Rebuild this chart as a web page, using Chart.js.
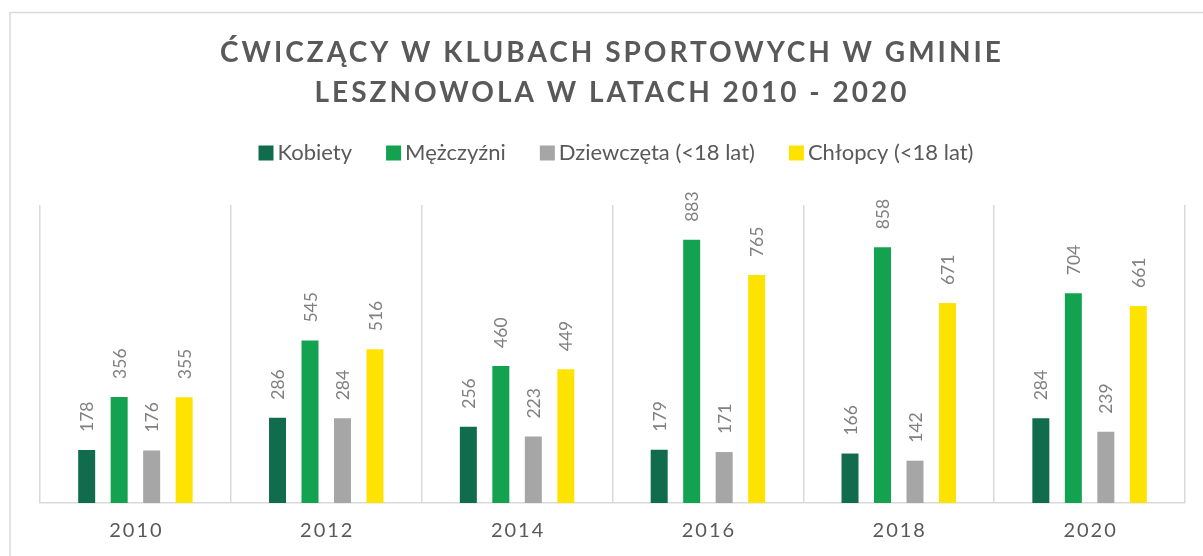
<!DOCTYPE html>
<html>
<head>
<meta charset="utf-8">
<script src="https://cdn.jsdelivr.net/npm/chart.js@4.4.0/dist/chart.umd.min.js"></script>
<style>
  html, body { margin: 0; padding: 0; background: #ffffff; }
  #wrap { width: 1203px; height: 556px; position: relative; }
</style>
</head>
<body>
<div id="wrap"><canvas id="c" width="1203" height="556"></canvas></div>
<script>
// ---- Data ----
const years = ['2010', '2012', '2014', '2016', '2018', '2020'];
const seriesNames = ['Kobiety', 'Mężczyźni', 'Dziewczęta (<18 lat)', 'Chłopcy (<18 lat)'];
const kobiety    = [178, 286, 256, 179, 166, 284];
const mezczyzni  = [356, 545, 460, 883, 858, 704];
const dziewczeta = [176, 284, 223, 171, 142, 239];
const chlopcy    = [355, 516, 449, 765, 671, 661];
const titleLines = ['ĆWICZĄCY W KLUBACH SPORTOWYCH W GMINIE', 'LESZNOWOLA W LATACH 2010 - 2020'];

// ---- Styles ----
const colors = ['#116C4E', '#13A350', '#A6A6A6', '#FFE300'];
const textGrey = '#595959';
const labelGrey = '#808080';
const gridGrey = '#D9D9D9';

const chromePlugin = {
  id: 'chrome',
  beforeDraw(chart) {
    const ctx = chart.ctx;
    ctx.save();
    ctx.strokeStyle = gridGrey;
    ctx.lineWidth = 1.5;
    ctx.beginPath();
    ctx.moveTo(10, 560);
    ctx.lineTo(10, 12.5);
    ctx.lineTo(1210, 12.5);
    ctx.stroke();
    ctx.restore();
  },
  afterDraw(chart) {
    const ctx = chart.ctx;
    ctx.save();
    // Title
    ctx.fillStyle = textGrey;
    ctx.font = 'bold 28px Lato';
    ctx.letterSpacing = '3px';
    ctx.textAlign = 'center';
    ctx.textBaseline = 'middle';
    const tcx = 612;
    ctx.fillText(titleLines[0], tcx, 53);
    ctx.fillText(titleLines[1], tcx, 93);

    // Legend
    ctx.letterSpacing = '0px';
    ctx.font = '22px Lato';
    ctx.textAlign = 'left';
    const box = 15, boxGap = 4, itemGap = 34;
    const widths = chart.data.datasets.map(d => ctx.measureText(d.label).width);
    let total = 0;
    widths.forEach((w, i) => { total += box + boxGap + w + (i < widths.length - 1 ? itemGap : 0); });
    let x = 616 - total / 2;
    const ly = 153;
    chart.data.datasets.forEach((d, i) => {
      ctx.fillStyle = d.backgroundColor;
      ctx.fillRect(x, ly - box / 2, box, box);
      ctx.fillStyle = textGrey;
      ctx.fillText(d.label, x + box + boxGap, ly);
      x += box + boxGap + widths[i] + itemGap;
    });

    // X tick labels
    const xs = chart.scales.x;
    ctx.font = '20px Lato';
    ctx.letterSpacing = '2px';
    ctx.textAlign = 'center';
    ctx.fillStyle = textGrey;
    chart.data.labels.forEach((lab, i) => {
      ctx.fillText(lab, xs.getPixelForValue(i) + 1, 531);
    });

    // Data labels (rotated)
    ctx.letterSpacing = '0px';
    ctx.font = '17.5px Lato';
    ctx.fillStyle = labelGrey;
    ctx.textAlign = 'left';
    ctx.textBaseline = 'middle';
    chart.data.datasets.forEach((d, di) => {
      const meta = chart.getDatasetMeta(di);
      meta.data.forEach((el, i) => {
        ctx.save();
        ctx.translate(el.x + 1, el.y - 18);
        ctx.rotate(-Math.PI / 2);
        ctx.fillText(String(d.data[i]), 0, 0);
        ctx.restore();
      });
    });
    ctx.restore();
  }
};

const datasets = [kobiety, mezczyzni, dziewczeta, chlopcy].map((arr, i) => ({
  label: seriesNames[i],
  data: arr,
  backgroundColor: colors[i],
  borderWidth: 0,
  categoryPercentage: 0.681,
  barPercentage: 0.523
}));

new Chart(document.getElementById('c'), {
  type: 'bar',
  data: { labels: years, datasets },
  options: {
    responsive: false,
    devicePixelRatio: 1,
    animation: false,
    layout: { padding: { top: 205, left: 40, right: 18, bottom: 0 } },
    plugins: {
      legend: { display: false },
      title: { display: false },
      tooltip: { enabled: false }
    },
    scales: {
      x: {
        grid: { color: gridGrey, offset: true, drawTicks: false, lineWidth: 1.5 },
        border: { display: true, color: gridGrey, width: 1.5 },
        ticks: { display: false },
        afterFit: (s) => { s.height = 53; }
      },
      y: {
        display: false,
        min: 0,
        max: 1000
      }
    }
  },
  plugins: [chromePlugin]
});
</script>
</body>
</html>
